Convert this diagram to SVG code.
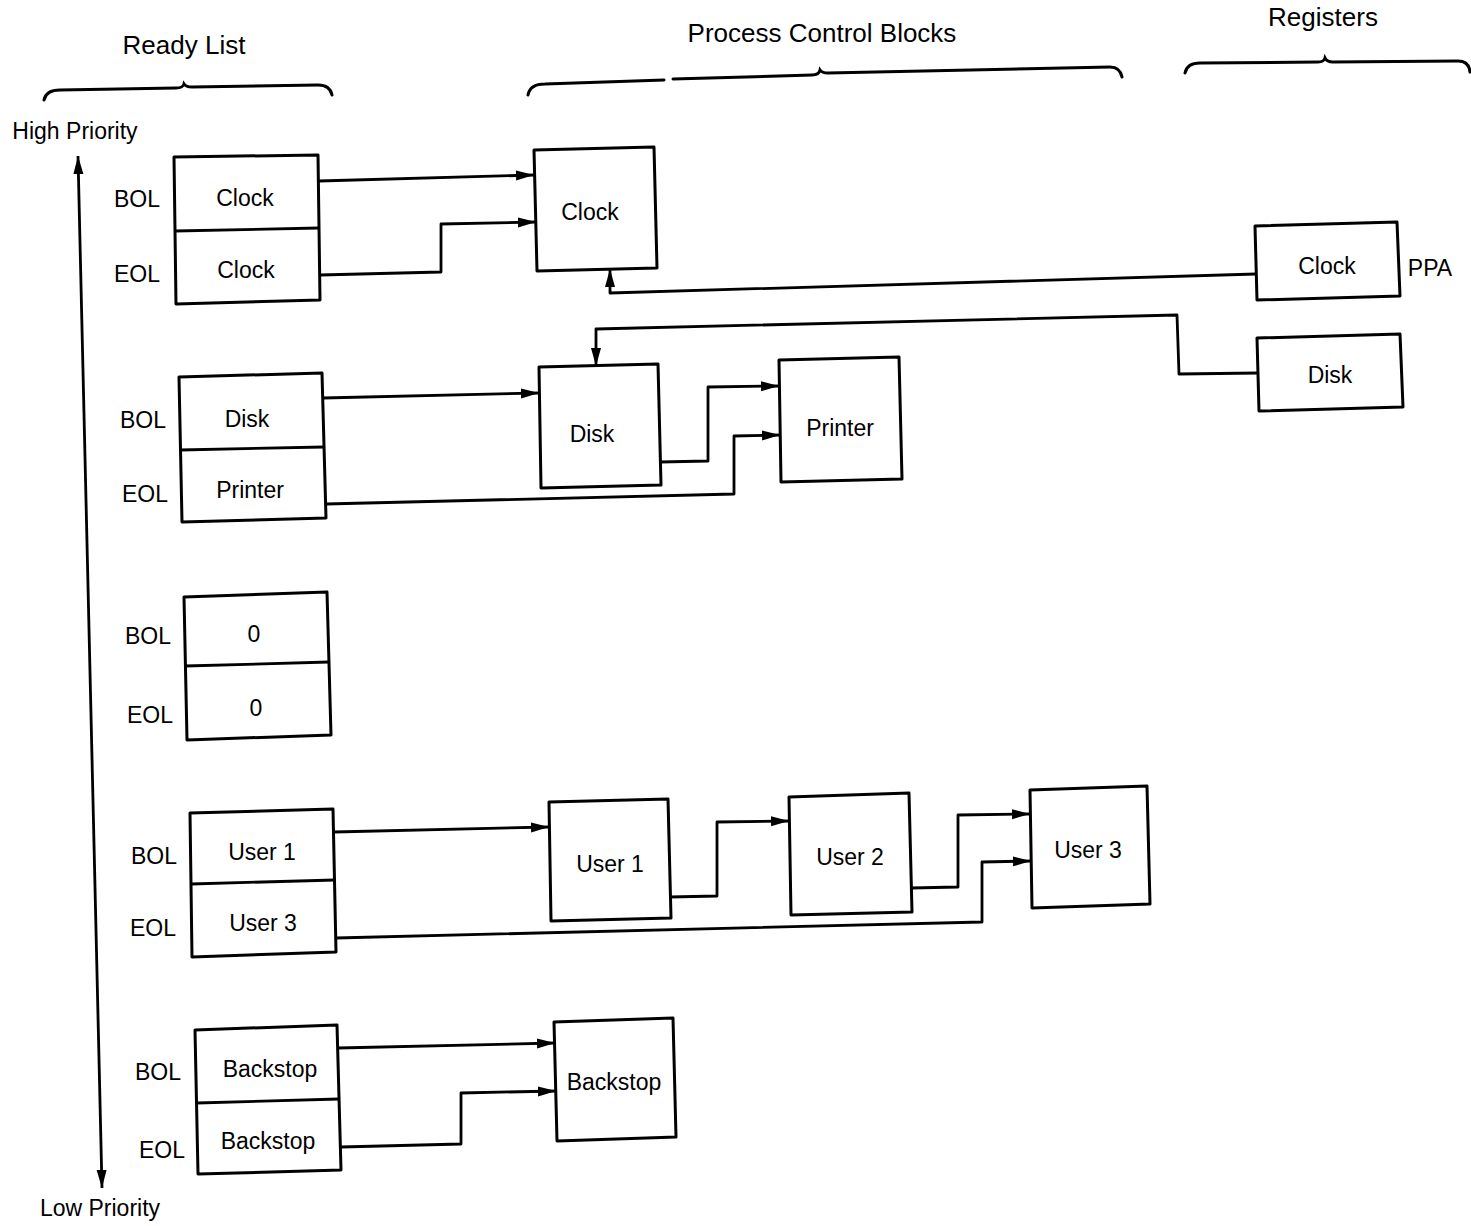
<svg xmlns="http://www.w3.org/2000/svg" width="1471" height="1226" viewBox="0 0 1471 1226">
  <defs>
    <marker id="arrow" markerUnits="userSpaceOnUse" markerWidth="20" markerHeight="12" refX="18" refY="5" orient="auto-start-reverse">
      <path d="M0,0 L18,5 L0,10 z" fill="#000"/>
    </marker>
    <style>
      text { font-family: "Liberation Sans", Arial, sans-serif; fill: #000; }
      .lbl { font-size: 23px; text-anchor: middle; }
      .title { font-size: 26px; text-anchor: middle; }
      .side { font-size: 23px; text-anchor: middle; }
      .box { fill: #fff; stroke: #000; stroke-width: 3; stroke-linejoin: round; }
      .div { stroke: #000; stroke-width: 2.8; }
      .conn { fill: none; stroke: #000; stroke-width: 2.8; stroke-linejoin: round; }
      .brace { fill: none; stroke: #000; stroke-width: 3; stroke-linecap: round; }
    </style>
  </defs>

  <rect width="1471" height="1226" fill="#fff"/>

  <!-- column headings and braces -->
  <g id="headings">
    <text class="title" x="184" y="54">Ready List</text>
    <text class="title" x="822" y="42">Process Control Blocks</text>
    <text class="title" x="1323" y="26">Registers</text>
    <path class="brace" d="M44,100 Q46,90 60,90 L176,88 Q183,88 184,84 Q186,87 192,87 L318,85 Q330,85 332,95"/>
    <path class="brace" d="M528,95 Q530,84 545,84 L664,80 M673,79 L812,75 Q819,75 820,70 Q822,73 828,73 L1110,67 Q1120,67 1122,77"/>
    <path class="brace" d="M1185,73 Q1187,63 1200,63 L1318,62 Q1324,62 1325,58 Q1327,62 1333,62 L1458,61 Q1469,61 1470,72"/>
  </g>

  <!-- priority axis -->
  <g id="priority">
    <text class="side" x="75" y="139">High Priority</text>
    <text class="side" x="100" y="1216">Low Priority</text>
    <line class="conn" x1="78" y1="156" x2="102" y2="1188" stroke-width="3" marker-start="url(#arrow)" marker-end="url(#arrow)"/>
  </g>

  <!-- ready list entries -->
  <g id="rl-clock">
    <polygon class="box" points="174,157 318,155 320,300 176,304"/>
    <line class="div" x1="175" y1="231" x2="319" y2="228"/>
    <text class="lbl" x="245" y="206">Clock</text>
    <text class="lbl" x="246" y="278">Clock</text>
    <text class="lbl" x="137" y="207">BOL</text>
    <text class="lbl" x="137" y="282">EOL</text>
  </g>
  <g id="rl-disk">
    <polygon class="box" points="179,377 322,373 326,518 182,522"/>
    <line class="div" x1="180" y1="450" x2="324" y2="447"/>
    <text class="lbl" x="247" y="427">Disk</text>
    <text class="lbl" x="250" y="498">Printer</text>
    <text class="lbl" x="143" y="428">BOL</text>
    <text class="lbl" x="145" y="502">EOL</text>
  </g>
  <g id="rl-empty">
    <polygon class="box" points="184,597 327,592 331,735 187,740"/>
    <line class="div" x1="185" y1="666" x2="329" y2="662"/>
    <text class="lbl" x="254" y="642">0</text>
    <text class="lbl" x="256" y="716">0</text>
    <text class="lbl" x="148" y="644">BOL</text>
    <text class="lbl" x="150" y="723">EOL</text>
  </g>
  <g id="rl-user">
    <polygon class="box" points="190,813 333,809 336,952 192,957"/>
    <line class="div" x1="191" y1="884" x2="335" y2="880"/>
    <text class="lbl" x="262" y="860">User 1</text>
    <text class="lbl" x="263" y="931">User 3</text>
    <text class="lbl" x="154" y="864">BOL</text>
    <text class="lbl" x="153" y="936">EOL</text>
  </g>
  <g id="rl-backstop">
    <polygon class="box" points="195,1030 337,1025 341,1170 198,1174"/>
    <line class="div" x1="197" y1="1103" x2="339" y2="1099"/>
    <text class="lbl" x="270" y="1077">Backstop</text>
    <text class="lbl" x="268" y="1149">Backstop</text>
    <text class="lbl" x="158" y="1080">BOL</text>
    <text class="lbl" x="162" y="1158">EOL</text>
  </g>

  <!-- process control blocks -->
  <g id="pcb-clock">
    <polygon class="box" points="534,150 654,147 657,268 537,271"/>
    <text class="lbl" x="590" y="220">Clock</text>
  </g>
  <g id="pcb-disk">
    <polygon class="box" points="539,367 658,364 661,485 541,488"/>
    <text class="lbl" x="592" y="442">Disk</text>
  </g>
  <g id="pcb-printer">
    <polygon class="box" points="779,360 899,357 902,479 781,482"/>
    <text class="lbl" x="840" y="436">Printer</text>
  </g>
  <g id="pcb-user1">
    <polygon class="box" points="549,802 668,799 671,918 551,921"/>
    <text class="lbl" x="610" y="872">User 1</text>
  </g>
  <g id="pcb-user2">
    <polygon class="box" points="789,797 909,793 912,912 791,915"/>
    <text class="lbl" x="850" y="865">User 2</text>
  </g>
  <g id="pcb-user3">
    <polygon class="box" points="1030,790 1147,786 1150,904 1032,908"/>
    <text class="lbl" x="1088" y="858">User 3</text>
  </g>
  <g id="pcb-backstop">
    <polygon class="box" points="554,1022 673,1018 676,1137 557,1141"/>
    <text class="lbl" x="614" y="1090">Backstop</text>
  </g>

  <!-- registers -->
  <g id="reg-clock">
    <polygon class="box" points="1255,226 1397,222 1400,296 1257,300"/>
    <text class="lbl" x="1327" y="274">Clock</text>
    <text class="lbl" x="1430" y="276">PPA</text>
  </g>
  <g id="reg-disk">
    <polygon class="box" points="1257,338 1400,334 1403,407 1259,411"/>
    <text class="lbl" x="1330" y="383">Disk</text>
  </g>

  <!-- pointers -->
  <g id="connectors">
    <polyline class="conn" points="319,181 534,175" marker-end="url(#arrow)"/>
    <polyline class="conn" points="320,275 441,272 441,224 536,222" marker-end="url(#arrow)"/>
    <polyline class="conn" points="1256,274 610,293 610,269" marker-end="url(#arrow)"/>
    <polyline class="conn" points="1258,373 1179,374 1177,315 596,329 596,366" marker-end="url(#arrow)"/>
    <polyline class="conn" points="323,398 539,393" marker-end="url(#arrow)"/>
    <polyline class="conn" points="326,504 734,494 734,436 780,435" marker-end="url(#arrow)"/>
    <polyline class="conn" points="660,462 708,461 708,387 779,386" marker-end="url(#arrow)"/>
    <polyline class="conn" points="334,832 549,827" marker-end="url(#arrow)"/>
    <polyline class="conn" points="670,897 717,896 717,822 789,821" marker-end="url(#arrow)"/>
    <polyline class="conn" points="911,888 958,887 958,815 1030,814" marker-end="url(#arrow)"/>
    <polyline class="conn" points="336,938 982,922 982,862 1031,861" marker-end="url(#arrow)"/>
    <polyline class="conn" points="338,1048 555,1043" marker-end="url(#arrow)"/>
    <polyline class="conn" points="341,1147 461,1144 461,1093 556,1091" marker-end="url(#arrow)"/>
  </g>
</svg>
